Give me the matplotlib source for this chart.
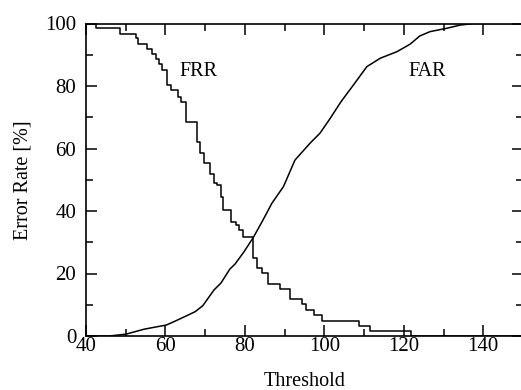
import matplotlib
matplotlib.use('Agg')
import matplotlib.pyplot as plt
import numpy as np
from matplotlib.ticker import MultipleLocator

# FRR: step curve (threshold, error rate %)
frr_x = [40, 42.5, 48.6, 52.6, 53.2, 55.3, 56.6, 57.5, 58.3, 59.1, 60.4, 61.4, 63.1,
         63.9, 65.2, 68.0, 68.7, 69.7, 71.2, 72.2, 73.0, 73.9, 74.6, 76.5, 77.8,
         78.4, 79.5, 82.1, 83.0, 84.3, 85.9, 88.9, 91.4, 94.3, 95.4, 97.3, 99.4,
         108.6, 111.4, 121.8, 150]
frr_y = [100, 98.5, 96.8, 95.3, 93.4, 91.7, 90.4, 88.8, 87.2, 85.1, 80.3, 78.7, 76.6,
         75.0, 68.6, 62.2, 58.5, 55.3, 51.8, 48.9, 48.3, 44.6, 40.3, 36.6, 35.5,
         33.9, 31.8, 24.9, 21.7, 20.3, 16.6, 14.9, 11.8, 10.2, 8.3, 6.7, 4.9,
         3.2, 1.6, 0.0, 0.0]

# FAR: rising curve
far_x = [40, 45.9, 50.1, 54.7, 60.2, 62.5, 65.2, 67.5, 69.4, 72.2, 74.0, 76.2, 77.5,
         79.8, 82.1, 84.5, 86.8, 89.7, 92.6, 96.4, 98.9, 101.5, 104.2, 107.3,
         110.7, 114.1, 118.3, 121.6, 124.0, 126.6, 130.9, 134.2, 137.6, 150]
far_y = [0, 0, 0.6, 2.2, 3.5, 4.8, 6.4, 7.8, 9.7, 14.7, 17.0, 21.4, 23.0,
         27.0, 31.5, 37.0, 42.5, 47.8, 56.3, 61.7, 64.9, 69.7, 75.0, 80.3,
         86.2, 88.9, 91.0, 93.4, 96.0, 97.4, 98.5, 99.5, 100, 100]

plt.rcParams['font.family'] = ['Liberation Serif', 'DejaVu Serif']

fig = plt.figure(figsize=(5.21, 3.90), dpi=100, facecolor='white')
ax = fig.add_axes([86 / 521, 54 / 390, 437 / 521, 312.5 / 390])

ax.plot(frr_x, frr_y, color='black', lw=1.1, drawstyle='steps-post')
ax.plot(far_x, far_y, color='black', lw=1.1)

ax.text(68.3, 84.6, 'FRR', fontsize=14.5, ha='center', va='center')
ax.text(125.8, 84.8, 'FAR', fontsize=14.5, ha='center', va='center')

ax.set_xlim(40, 150)
ax.set_ylim(0, 100)
ax.xaxis.set_major_locator(MultipleLocator(20))
ax.xaxis.set_minor_locator(MultipleLocator(10))
ax.yaxis.set_major_locator(MultipleLocator(20))
ax.yaxis.set_minor_locator(MultipleLocator(10))
ax.tick_params(which='both', direction='in', top=True, right=True,
               labelsize=15, width=1.1)
ax.tick_params(axis='x', pad=1)
ax.tick_params(axis='y', pad=7)
ax.tick_params(which='major', length=8)
ax.tick_params(which='minor', length=5)
for s in ax.spines.values():
    s.set_linewidth(1.2)

ax.set_xlabel('Threshold', fontsize=14.5, labelpad=11)
ax.set_ylabel('Error Rate [%]', fontsize=14.5, labelpad=9)

fig.savefig('out.png', dpi=100)
